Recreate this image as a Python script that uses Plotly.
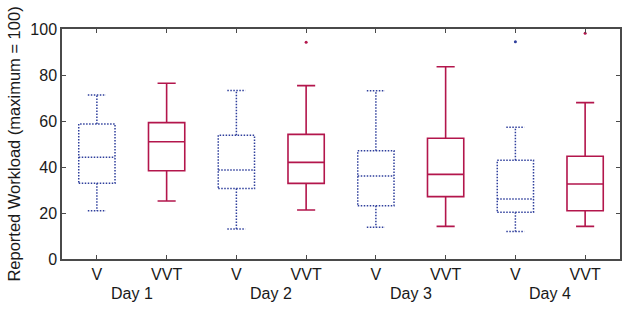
import plotly.graph_objects as go

# ---- data ----
days = ["Day 1", "Day 2", "Day 3", "Day 4"]
conditions = ["V", "VVT"]
tick_labels = ["V", "VVT", "V", "VVT", "V", "VVT", "V", "VVT"]

# V condition (dotted blue), one value per day
v_low = [21.0, 13.0, 13.8, 12.0]
v_q1 = [32.9, 30.6, 23.2, 20.3]
v_med = [44.2, 38.7, 36.1, 26.1]
v_q3 = [58.7, 53.8, 47.1, 42.9]
v_high = [71.3, 73.3, 73.2, 57.3]
v_outliers = [[], [], [], [94.5]]

# VVT condition (solid crimson), one value per day
vvt_low = [25.2, 21.3, 14.2, 14.2]
vvt_q1 = [38.4, 32.9, 27.1, 21.0]
vvt_med = [51.0, 42.0, 36.8, 32.6]
vvt_q3 = [59.3, 54.2, 52.5, 44.7]
vvt_high = [76.4, 75.4, 83.6, 68.0]
vvt_outliers = [[], [94.2], [], [98.1]]

BLUE = "#2f3f9c"
RED = "#b3164c"
AXIS = "#4a4a4a"
TXT = "#1a1a1a"
FONT = "Liberation Sans, Arial, Helvetica, sans-serif"
BOX_W = 0.52
CAP_W = BOX_W * 0.5

fig = go.Figure()

v_pos = [1 + 2 * i for i in range(len(days))]
vvt_pos = [2 + 2 * i for i in range(len(days))]

# V boxes: dotted outlines built from the statistics
for x, lo, q1, md, q3, hi in zip(v_pos, v_low, v_q1, v_med, v_q3, v_high):
    hb, hc = BOX_W / 2, CAP_W / 2
    xs = [x - hb, x + hb, x + hb, x - hb, x - hb, None,
          x - hb, x + hb, None,
          x, x, None, x, x, None,
          x - hc, x + hc, None, x - hc, x + hc]
    ys = [q1, q1, q3, q3, q1, None,
          md, md, None,
          q3, hi, None, q1, lo, None,
          hi, hi, None, lo, lo]
    fig.add_trace(go.Scatter(x=xs, y=ys, mode="lines", showlegend=False,
                             line=dict(color=BLUE, width=1.5, dash="1.5px,1.5px"),
                             hoverinfo="skip"))

# VVT boxes: solid, library box traces with precomputed stats
for x, lo, q1, md, q3, hi in zip(vvt_pos, vvt_low, vvt_q1, vvt_med, vvt_q3, vvt_high):
    fig.add_trace(go.Box(x=[x], q1=[q1], median=[md], q3=[q3],
                         lowerfence=[lo], upperfence=[hi],
                         width=BOX_W, whiskerwidth=0.5,
                         fillcolor="rgba(0,0,0,0)",
                         line=dict(color=RED, width=1.6),
                         boxpoints=False, showlegend=False))

# outliers
for x, outs in zip(v_pos, v_outliers):
    if outs:
        fig.add_trace(go.Scatter(x=[x] * len(outs), y=outs, mode="markers",
                                 marker=dict(color=BLUE, size=3), showlegend=False))
for x, outs in zip(vvt_pos, vvt_outliers):
    if outs:
        fig.add_trace(go.Scatter(x=[x] * len(outs), y=outs, mode="markers",
                                 marker=dict(color=RED, size=3), showlegend=False))

# day labels under each pair
for i, d in enumerate(days):
    fig.add_annotation(x=1.5 + 2 * i, xref="x", y=-0.148, yref="paper",
                       text=d, showarrow=False, yanchor="middle",
                       font=dict(size=16, color=TXT, family=FONT))

fig.update_xaxes(range=[0.5, 8.5], tickmode="array",
                 tickvals=v_pos + vvt_pos,
                 ticktext=[tick_labels[i] for i in range(0, 8, 2)] + [tick_labels[i] for i in range(1, 8, 2)],
                 ticks="inside", ticklen=4, tickcolor=AXIS, tickwidth=1.2,
                 showline=True, linecolor=AXIS, linewidth=1.5, mirror="ticks",
                 showgrid=False, zeroline=False, automargin=False,
                 tickfont=dict(size=16, color=TXT, family=FONT))
fig.update_yaxes(range=[0, 100], tickmode="array", tickvals=[0, 20, 40, 60, 80, 100],
                 ticks="inside", ticklen=4, tickcolor=AXIS, tickwidth=1.2,
                 showline=True, linecolor=AXIS, linewidth=1.5, mirror="ticks",
                 showgrid=False, zeroline=False, automargin=False,
                 title=dict(text="Reported Workload (maximum = 100)",
                            font=dict(size=16.5, color=TXT, family=FONT), standoff=6),
                 tickfont=dict(size=16, color=TXT, family=FONT))

fig.update_layout(width=629, height=311,
                  margin=dict(l=62, r=9, t=29, b=52),
                  paper_bgcolor="white", plot_bgcolor="white",
                  font=dict(family=FONT))

fig.write_html("out.html", config={"displayModeBar": False},
               post_script="document.body.style.margin='0';document.body.style.overflow='hidden';")
